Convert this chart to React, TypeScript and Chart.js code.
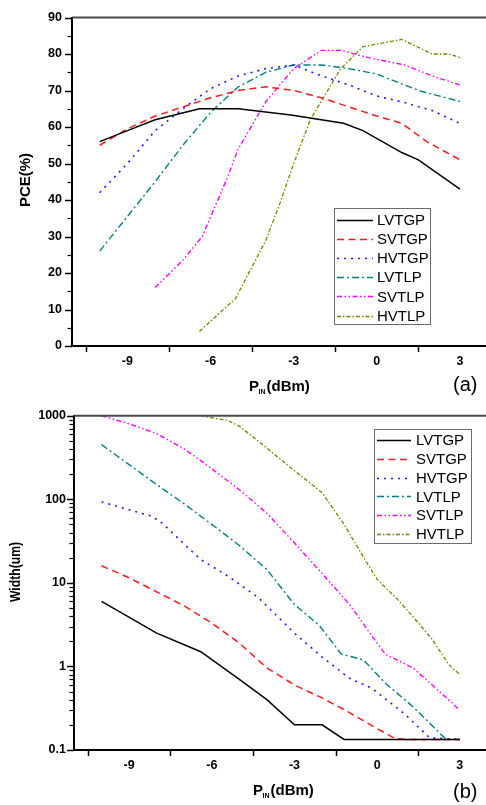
import React, { useEffect, useRef } from "react";
import { Chart, registerables } from "chart.js";

Chart.register(...registerables);

// ---------- names & ticks ----------
const seriesNames = ["LVTGP", "SVTGP", "HVTGP", "LVTLP", "SVTLP", "HVTLP"];

const xMajorTicks = [-9, -6, -3, 0, 3];
const xMinorTicks = [-10.5, -7.5, -4.5, -1.5, 1.5];

const pceMajorTicks = [0, 10, 20, 30, 40, 50, 60, 70, 80, 90];
const pceMinorTicks = [5, 15, 25, 35, 45, 55, 65, 75, 85];

const widthMajorTicks = [0.1, 1, 10, 100, 1000];
const widthMinorTicks = [
  0.2, 0.3, 0.4, 0.5, 0.6, 0.7, 0.8, 0.9,
  2, 3, 4, 5, 6, 7, 8, 9,
  20, 30, 40, 50, 60, 70, 80, 90,
  200, 300, 400, 500, 600, 700, 800, 900,
];

// ---------- (a) PCE(%) vs PIN(dBm) ----------
const pceLVTGP: [number, number][] = [
  [-10, 56], [-9, 59], [-8, 62], [-6.4, 65], [-5, 65], [-3.1, 63.3], [-1.2, 61],
  [-0.5, 59], [0.9, 53], [1.5, 51], [3, 43],
];
const pceSVTGP: [number, number][] = [
  [-10, 55], [-9, 59.5], [-8, 63], [-7, 65.5], [-6, 68], [-5, 70], [-4, 71],
  [-3, 70], [-2, 68], [-1, 65.5], [0, 63], [0.9, 61], [1.8, 56], [3, 51],
];
const pceHVTGP: [number, number][] = [
  [-10, 42], [-9, 50], [-8, 59], [-7, 65], [-6, 70.5], [-5, 74], [-4, 76],
  [-3, 77], [-2, 74], [-1, 71.5], [0, 68.5], [1, 66.7], [2, 64.5], [3, 61],
];
const pceLVTLP: [number, number][] = [
  [-10, 26], [-9, 35.5], [-8, 45], [-7, 55], [-6, 64], [-5, 71], [-4, 75],
  [-3, 77], [-2, 77], [-1, 76], [0, 74.5], [1, 71.5], [1.6, 69.8], [2, 69], [3, 67],
];
const pceSVTLP: [number, number][] = [
  [-8, 16], [-7, 23.5], [-6.3, 30], [-5.4, 46], [-5, 54], [-4, 67], [-3, 76],
  [-2, 81], [-1.3, 81], [-0.3, 79], [1, 77], [2, 74], [3, 71.5],
];
const pceHVTLP: [number, number][] = [
  [-6.4, 4], [-5.1, 13], [-4, 29], [-3.5, 39], [-3, 50], [-2.4, 62], [-1.3, 76],
  [-0.5, 82], [0.9, 84], [2, 80], [2.6, 80], [3, 79],
];

// ---------- (b) Width(um) vs PIN(dBm) ----------
const widthLVTGP: [number, number][] = [
  [-10, 6], [-8, 2.5], [-6.4, 1.5], [-5, 0.7], [-4, 0.4], [-3, 0.2], [-2, 0.2],
  [-1.2, 0.134], [3, 0.134],
];
const widthSVTGP: [number, number][] = [
  [-10, 16], [-9, 11.5], [-8, 7.8], [-7, 5.3], [-6, 3.3], [-5, 1.9], [-4, 0.96],
  [-3, 0.6], [-2, 0.42], [-1, 0.28], [0, 0.18], [0.6, 0.14], [1, 0.134], [3, 0.134],
];
const widthHVTGP: [number, number][] = [
  [-10, 93], [-9, 75], [-8.2, 63], [-7.8, 52], [-7, 29], [-6.4, 19], [-5.4, 12],
  [-4.3, 6.6], [-3, 2.5], [-2, 1.3], [-1, 0.72], [-0.2, 0.55], [1, 0.27],
  [1.9, 0.14], [3, 0.134],
];
const widthLVTLP: [number, number][] = [
  [-10, 450], [-9, 260], [-8, 150], [-7, 88], [-6, 50], [-5, 28], [-4, 14.4],
  [-3, 5.5], [-2.1, 3.1], [-1.3, 1.4], [-0.5, 1.2], [0.3, 0.63], [1.3, 0.33],
  [2.5, 0.134], [3, 0.134],
];
const widthSVTLP: [number, number][] = [
  [-10, 1000], [-9, 800], [-8, 610], [-7, 400], [-6.3, 275], [-5, 130], [-4, 68],
  [-3, 30], [-2, 13], [-1, 5.5], [0, 1.9], [0.3, 1.4], [1.3, 0.96], [2, 0.6], [3, 0.3],
];
const widthHVTLP: [number, number][] = [
  [-6.4, 1000], [-5.4, 870], [-5, 750], [-4, 410], [-3, 220], [-2, 120],
  [-1.2, 50], [-0.4, 18], [0, 11], [0.75, 6.3], [1.5, 3.3], [2, 2.1],
  [2.6, 1.05], [3, 0.8],
];

// ---------- styles ----------
const seriesColors = ["#000000", "#ff1a1a", "#1a1aff", "#008080", "#ff00ff", "#808000"];
const seriesDashes = [[], [7, 4.5], [2, 5], [7, 3, 2, 3], [5, 2.5, 1.5, 2.5, 1.5, 2.5], [4, 2, 1.5, 2]];
const seriesWidths = [1.5, 1.5, 1.6, 1.4, 1.4, 1.3];

const FONT = "'Liberation Sans', Arial, Helvetica, sans-serif";

function makeDatasets(series: [number, number][][]) {
  return series.map((pts, i) => ({
    label: seriesNames[i],
    data: pts.map(([x, y]) => ({ x, y })),
    borderColor: seriesColors[i],
    backgroundColor: seriesColors[i],
    borderDash: seriesDashes[i],
    borderWidth: seriesWidths[i],
    pointRadius: 0,
    pointHoverRadius: 0,
    fill: false,
    tension: 0,
  }));
}

function drawPin(ctx: CanvasRenderingContext2D, x: number, base: number) {
  ctx.textAlign = "left";
  ctx.textBaseline = "alphabetic";
  ctx.font = `bold 15px ${FONT}`;
  ctx.fillText("P", x, base);
  const w1 = ctx.measureText("P").width;
  ctx.font = `bold 7px ${FONT}`;
  ctx.fillText("IN", x + w1 - 0.5, base + 3);
  const w2 = ctx.measureText("IN").width;
  ctx.font = `bold 15px ${FONT}`;
  ctx.fillText("(dBm)", x + w1 + w2 + 0.5, base);
}

const decorPlugin = {
  id: "decor",
  afterDraw(chart: any, _args: any, opts: any) {
    const ctx: CanvasRenderingContext2D = chart.ctx;
    const { left, right, top, bottom } = chart.chartArea;
    const xs = chart.scales.x;
    const ys = chart.scales.y;
    ctx.save();
    // top frame line
    ctx.setLineDash([]);
    ctx.strokeStyle = "#4a4a4a";
    ctx.lineWidth = 2;
    ctx.beginPath();
    ctx.moveTo(left, top);
    ctx.lineTo(right, top);
    ctx.stroke();
    // tick marks
    ctx.strokeStyle = "#000";
    ctx.lineWidth = 1.5;
    const seg = (x1: number, y1: number, x2: number, y2: number) => {
      ctx.beginPath();
      ctx.moveTo(x1, y1);
      ctx.lineTo(x2, y2);
      ctx.stroke();
    };
    for (const v of opts.xMinor) {
      const px = Math.round(xs.getPixelForValue(v)) + 0.5;
      seg(px, bottom + 1, px, bottom + 6);
    }
    for (const v of opts.yMajor) {
      const py = Math.round(ys.getPixelForValue(v)) + 0.5;
      seg(left - 7, py, left, py);
    }
    ctx.lineWidth = 1.2;
    for (const v of opts.yMinor) {
      const py = Math.round(ys.getPixelForValue(v)) + 0.5;
      seg(left - 4.5, py, left, py);
    }
    // legend
    const lg = opts.legend;
    ctx.fillStyle = "#fff";
    ctx.fillRect(lg.x, lg.y, lg.w, lg.h);
    ctx.strokeStyle = "#6a6a6a";
    ctx.lineWidth = 1;
    ctx.setLineDash([]);
    ctx.strokeRect(lg.x + 0.5, lg.y + 0.5, lg.w, lg.h);
    chart.data.datasets.forEach((ds: any, i: number) => {
      const ry = lg.row0 + i * lg.step;
      ctx.strokeStyle = ds.borderColor;
      ctx.lineWidth = ds.borderWidth;
      ctx.setLineDash(ds.borderDash || []);
      ctx.beginPath();
      ctx.moveTo(lg.lineX0, Math.round(ry) + 0.5);
      ctx.lineTo(lg.lineX1, Math.round(ry) + 0.5);
      ctx.stroke();
      ctx.setLineDash([]);
      ctx.fillStyle = "#000";
      ctx.font = `15px ${FONT}`;
      ctx.textAlign = "left";
      ctx.textBaseline = "middle";
      ctx.fillText(ds.label, lg.textX, ry + 1);
    });
    // titles
    ctx.fillStyle = "#000";
    const t = opts.titles;
    ctx.save();
    ctx.translate(t.yTitleX, t.yTitleY);
    ctx.rotate(-Math.PI / 2);
    ctx.font = `bold ${t.yTitleSize}px ${FONT}`;
    ctx.textAlign = "center";
    ctx.textBaseline = "middle";
    if (t.yTitleMaxW) ctx.fillText(t.yTitle, 0, 0, t.yTitleMaxW);
    else ctx.fillText(t.yTitle, 0, 0);
    ctx.restore();
    drawPin(ctx, t.pinX, t.pinBase);
    ctx.font = `20px ${FONT}`;
    ctx.textAlign = "left";
    ctx.textBaseline = "alphabetic";
    ctx.fillText(t.tag, t.tagX, t.tagBase);
    ctx.restore();
  },
};

function tickFont() {
  return { family: FONT, size: 12.5, weight: "bold" as const };
}

function buildTop(): any {
  return {
    type: "line",
    data: {
      datasets: makeDatasets([pceLVTGP, pceSVTGP, pceHVTGP, pceLVTLP, pceSVTLP, pceHVTLP]),
    },
    plugins: [decorPlugin],
    options: {
      animation: false,
      responsive: false,
      devicePixelRatio: 1,
      layout: { padding: { top: 9, left: 0, right: 0, bottom: 0 } },
      plugins: {
        legend: { display: false },
        tooltip: { enabled: false },
        decor: {
          xMinor: xMinorTicks,
          yMajor: pceMajorTicks,
          yMinor: pceMinorTicks,
          legend: { x: 334, y: 208, w: 96, h: 116, row0: 220, step: 19.1, lineX0: 337, lineX1: 373, textX: 377 },
          titles: {
            yTitle: "PCE(%)", yTitleX: 25.5, yTitleY: 180, yTitleSize: 15, yTitleMaxW: 0,
            pinX: 249, pinBase: 391, tag: "(a)", tagX: 453, tagBase: 391,
          },
        },
      },
      scales: {
        x: {
          type: "linear",
          min: -11,
          max: 3.94,
          afterFit: (s: any) => { s.height = 54; },
          afterBuildTicks: (s: any) => { s.ticks = xMajorTicks.map((v) => ({ value: v })); },
          grid: { display: false, drawTicks: false },
          border: { display: true, color: "#000", width: 2 },
          ticks: { font: tickFont(), color: "#000", padding: 8, maxRotation: 0, autoSkip: false, callback: (v: any) => String(v) },
        },
        y: {
          type: "linear",
          min: 0,
          max: 90,
          afterFit: (s: any) => { s.width = 72; },
          afterBuildTicks: (s: any) => { s.ticks = pceMajorTicks.map((v) => ({ value: v })); },
          grid: { display: false, drawTicks: false },
          border: { display: true, color: "#000", width: 2 },
          ticks: { font: tickFont(), color: "#000", padding: 10, autoSkip: false, callback: (v: any) => String(v) },
        },
      },
    },
  };
}

function buildBottom(): any {
  return {
    type: "line",
    data: {
      datasets: makeDatasets([widthLVTGP, widthSVTGP, widthHVTGP, widthLVTLP, widthSVTLP, widthHVTLP]),
    },
    plugins: [decorPlugin],
    options: {
      animation: false,
      responsive: false,
      devicePixelRatio: 1,
      layout: { padding: { top: 15.7, left: 0, right: 0, bottom: 0 } },
      plugins: {
        legend: { display: false },
        tooltip: { enabled: false },
        decor: {
          xMinor: xMinorTicks,
          yMajor: widthMajorTicks,
          yMinor: widthMinorTicks,
          legend: { x: 374, y: 29, w: 97, h: 114, row0: 40, step: 18.8, lineX0: 377, lineX1: 411, textX: 416 },
          titles: {
            yTitle: "Width(um)", yTitleX: 16.5, yTitleY: 172, yTitleSize: 14, yTitleMaxW: 60,
            pinX: 253, pinBase: 395, tag: "(b)", tagX: 453, tagBase: 398,
          },
        },
      },
      scales: {
        x: {
          type: "linear",
          min: -11,
          max: 3.95,
          afterFit: (s: any) => { s.height = 55; },
          afterBuildTicks: (s: any) => { s.ticks = xMajorTicks.map((v) => ({ value: v })); },
          grid: { display: false, drawTicks: false },
          border: { display: true, color: "#000", width: 2 },
          ticks: { font: tickFont(), color: "#000", padding: 8, maxRotation: 0, autoSkip: false, callback: (v: any) => String(v) },
        },
        y: {
          type: "logarithmic",
          min: 0.1,
          max: 1000,
          afterFit: (s: any) => { s.width = 74; },
          afterBuildTicks: (s: any) => { s.ticks = widthMajorTicks.map((v) => ({ value: v })); },
          grid: { display: false, drawTicks: false },
          border: { display: true, color: "#000", width: 2 },
          ticks: { font: tickFont(), color: "#000", padding: 8, autoSkip: false, callback: (v: any) => String(v) },
        },
      },
    },
  };
}

export default function App() {
  const topRef = useRef<HTMLCanvasElement>(null);
  const botRef = useRef<HTMLCanvasElement>(null);
  useEffect(() => {
    const c1 = new Chart(topRef.current as HTMLCanvasElement, buildTop());
    const c2 = new Chart(botRef.current as HTMLCanvasElement, buildBottom());
    return () => {
      c1.destroy();
      c2.destroy();
    };
  }, []);
  return (
    <div style={{ position: "absolute", left: 0, top: 0, width: 486, height: 805, background: "#fff", overflow: "hidden" }}>
      <canvas ref={topRef} width={486} height={400} style={{ position: "absolute", left: 0, top: 0, width: 486, height: 400 }} />
      <canvas ref={botRef} width={486} height={405} style={{ position: "absolute", left: 0, top: 400, width: 486, height: 405 }} />
    </div>
  );
}
